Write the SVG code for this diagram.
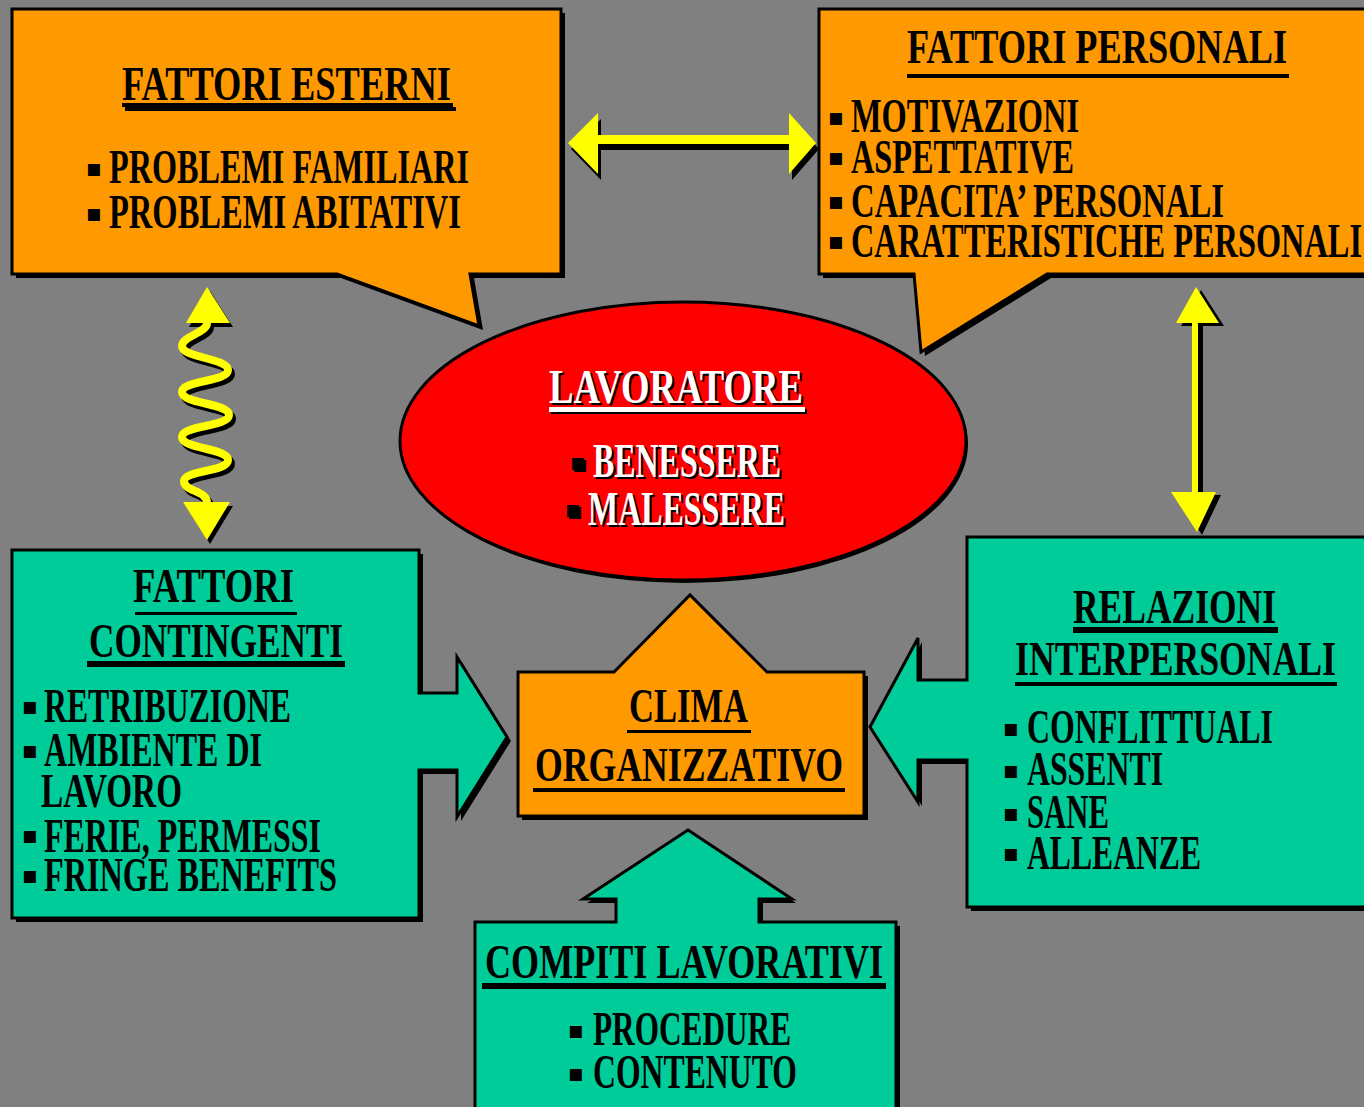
<svg xmlns="http://www.w3.org/2000/svg" width="1364" height="1107" viewBox="0 0 1364 1107">
<defs>
<style>
.org{fill:#FF9900;stroke:#000;stroke-width:3;stroke-linejoin:miter}
.teal{fill:#00CC99;stroke:#000;stroke-width:3;stroke-linejoin:miter}
.red{fill:#FF0000;stroke:#000;stroke-width:3}
.sh{fill:#000}
.t{font-family:"Liberation Serif","Times New Roman",serif;font-weight:bold;font-size:49px;fill:#000}
.w{fill:#fff}
.bl{font-family:"DejaVu Sans",sans-serif;font-size:24px;fill:#000;text-anchor:middle}
.ul{fill:#000}
.yel{fill:#FFFF00}
.ys{fill:none;stroke:#FFFF00;stroke-width:8}
.ks{fill:none;stroke:#000;stroke-width:8}
</style>
</defs>
<rect width="1364" height="1107" fill="#808080"/>

<g id="connectors">
  <!-- horizontal double arrow -->
  <g transform="translate(3,6)" class="sh">
    <rect x="598" y="135" width="191" height="9"/>
    <polygon points="568,143 598,113 598,174"/>
    <polygon points="816,143 789,113 789,174"/>
  </g>
  <g class="yel">
    <rect x="598" y="135" width="191" height="9"/>
    <polygon points="568,143 598,113 598,174"/>
    <polygon points="816,143 789,113 789,174"/>
  </g>
  <!-- right vertical double arrow -->
  <g transform="translate(5,3)" class="sh">
    <rect x="1192" y="323" width="6" height="169"/>
    <polygon points="1196,287 1219,323 1176,323"/>
    <polygon points="1171,492 1216,492 1197,532"/>
  </g>
  <g class="yel">
    <rect x="1192" y="323" width="6" height="169"/>
    <polygon points="1196,287 1219,323 1176,323"/>
    <polygon points="1171,492 1216,492 1197,532"/>
  </g>
  <!-- wavy double arrow -->
  <g transform="translate(3,4)">
    <path class="ks" d="M207,323 C207,333 182,336 182,346 C182,358 228,358 228,370 C228,382 182,380 182,392 C182,404 229,403 229,415 C229,427 182,425 182,437 C182,449 228,448 228,460 C228,472 184,470 184,481 C184,492 207,490 207,503"/>
    <polygon class="sh" points="207,287 230,323 186,323"/>
    <polygon class="sh" points="183,502 230,502 207,540"/>
  </g>
  <path class="ys" d="M207,323 C207,333 182,336 182,346 C182,358 228,358 228,370 C228,382 182,380 182,392 C182,404 229,403 229,415 C229,427 182,425 182,437 C182,449 228,448 228,460 C228,472 184,470 184,481 C184,492 207,490 207,503"/>
  <polygon class="yel" points="207,287 230,323 186,323"/>
  <polygon class="yel" points="183,502 230,502 207,540"/>
</g>

<g id="fattori-esterni">
  <path class="sh" transform="translate(4,4)" d="M12,9 H561 V274 H470 L479,326 L337,274 H12 Z"/>
  <path class="org" d="M12,9 H561 V274 H470 L479,326 L337,274 H12 Z"/>
  <text class="t" x="122" y="100" textLength="329" lengthAdjust="spacingAndGlyphs">FATTORI ESTERNI</text>
  <rect class="ul" x="122" y="103" width="331" height="4"/>
  <rect class="ul" x="125" y="107" width="331" height="4"/>
  <text class="bl" x="94" y="176">▪</text>
  <text class="t" x="109" y="183" textLength="360" lengthAdjust="spacingAndGlyphs">PROBLEMI FAMILIARI</text>
  <text class="bl" x="94" y="221">▪</text>
  <text class="t" x="109" y="228" textLength="352" lengthAdjust="spacingAndGlyphs">PROBLEMI ABITATIVI</text>
</g>

<g id="fattori-personali">
  <path class="sh" transform="translate(4,4)" d="M819,9 H1372 V274 H1047 L921,352 L914,274 H819 Z"/>
  <path class="org" d="M819,9 H1372 V274 H1047 L921,352 L914,274 H819 Z"/>
  <text class="t" x="907" y="63" textLength="380" lengthAdjust="spacingAndGlyphs">FATTORI PERSONALI</text>
  <rect class="ul" x="907" y="74" width="382" height="4"/>
  <text class="bl" x="836" y="125">▪</text>
  <text class="t" x="851" y="132" textLength="228" lengthAdjust="spacingAndGlyphs">MOTIVAZIONI</text>
  <text class="bl" x="836" y="165">▪</text>
  <text class="t" x="851" y="173" textLength="223" lengthAdjust="spacingAndGlyphs">ASPETTATIVE</text>
  <text class="bl" x="836" y="209">▪</text>
  <text class="t" x="851" y="217" textLength="373" lengthAdjust="spacingAndGlyphs">CAPACITA’ PERSONALI</text>
  <text class="bl" x="836" y="249">▪</text>
  <text class="t" x="851" y="257" textLength="511" lengthAdjust="spacingAndGlyphs">CARATTERISTICHE PERSONALI</text>
</g>

<g id="lavoratore">
  <ellipse class="sh" cx="685" cy="444" rx="283" ry="139"/>
  <ellipse class="red" cx="683" cy="441" rx="283" ry="139"/>
  <text class="t" x="551" y="405" textLength="254" lengthAdjust="spacingAndGlyphs">LAVORATORE</text>
  <text class="t w" x="549" y="403" textLength="254" lengthAdjust="spacingAndGlyphs">LAVORATORE</text>
  <rect class="ul" x="551" y="409" width="256" height="5"/>
  <rect class="w" x="549" y="407" width="256" height="5"/>
  <text class="bl" x="580" y="472">▪</text>
  <text class="bl w" x="578" y="470">▪</text>
  <text class="t" x="595" y="479" textLength="188" lengthAdjust="spacingAndGlyphs">BENESSERE</text>
  <text class="t w" x="593" y="477" textLength="188" lengthAdjust="spacingAndGlyphs">BENESSERE</text>
  <text class="bl" x="575" y="519">▪</text>
  <text class="bl w" x="573" y="517">▪</text>
  <text class="t" x="590" y="527" textLength="197" lengthAdjust="spacingAndGlyphs">MALESSERE</text>
  <text class="t w" x="588" y="525" textLength="197" lengthAdjust="spacingAndGlyphs">MALESSERE</text>
</g>

<g id="fattori-contingenti">
  <path class="sh" transform="translate(4,4)" d="M12,550 H419 V693 H457 V657 L507,737 L457,817 V770 H419 V918 H12 Z"/>
  <path class="teal" d="M12,550 H419 V693 H457 V657 L507,737 L457,817 V770 H419 V918 H12 Z"/>
  <text class="t" x="133" y="602" textLength="161" lengthAdjust="spacingAndGlyphs">FATTORI</text>
  <rect class="ul" x="135" y="612" width="162" height="3"/>
  <text class="t" x="89" y="657" textLength="254" lengthAdjust="spacingAndGlyphs">CONTINGENTI</text>
  <rect class="ul" x="87" y="661" width="258" height="6"/>
  <text class="bl" x="30" y="714">▪</text>
  <text class="t" x="44" y="722" textLength="247" lengthAdjust="spacingAndGlyphs">RETRIBUZIONE</text>
  <text class="bl" x="30" y="758">▪</text>
  <text class="t" x="44" y="766" textLength="218" lengthAdjust="spacingAndGlyphs">AMBIENTE DI</text>
  <text class="t" x="41" y="807" textLength="141" lengthAdjust="spacingAndGlyphs">LAVORO</text>
  <text class="bl" x="30" y="843">▪</text>
  <text class="t" x="44" y="852" textLength="277" lengthAdjust="spacingAndGlyphs">FERIE, PERMESSI</text>
  <text class="bl" x="30" y="883">▪</text>
  <text class="t" x="44" y="891" textLength="293" lengthAdjust="spacingAndGlyphs">FRINGE BENEFITS</text>
</g>

<g id="relazioni-interpersonali">
  <path class="sh" transform="translate(4,4)" d="M967,537 H1372 V907 H967 V760 H918 V802 L870,727 L918,638 V680 H967 Z"/>
  <path class="teal" d="M967,537 H1372 V907 H967 V760 H918 V802 L870,727 L918,638 V680 H967 Z"/>
  <text class="t" x="1073" y="623" textLength="203" lengthAdjust="spacingAndGlyphs">RELAZIONI</text>
  <rect class="ul" x="1073" y="627" width="205" height="6"/>
  <text class="t" x="1015" y="675" textLength="321" lengthAdjust="spacingAndGlyphs">INTERPERSONALI</text>
  <rect class="ul" x="1015" y="682" width="322" height="4"/>
  <text class="bl" x="1011" y="736">▪</text>
  <text class="t" x="1027" y="743" textLength="246" lengthAdjust="spacingAndGlyphs">CONFLITTUALI</text>
  <text class="bl" x="1011" y="778">▪</text>
  <text class="t" x="1027" y="785" textLength="136" lengthAdjust="spacingAndGlyphs">ASSENTI</text>
  <text class="bl" x="1011" y="821">▪</text>
  <text class="t" x="1027" y="828" textLength="82" lengthAdjust="spacingAndGlyphs">SANE</text>
  <text class="bl" x="1011" y="861">▪</text>
  <text class="t" x="1027" y="869" textLength="174" lengthAdjust="spacingAndGlyphs">ALLEANZE</text>
</g>

<g id="clima-organizzativo">
  <path class="sh" transform="translate(4,4)" d="M518,672 H614 L690,595 L767,672 H864 V816 H518 Z"/>
  <path class="org" d="M518,672 H614 L690,595 L767,672 H864 V816 H518 Z"/>
  <text class="t" x="629" y="722" textLength="119" lengthAdjust="spacingAndGlyphs">CLIMA</text>
  <rect class="ul" x="627" y="730" width="124" height="3"/>
  <text class="t" x="535" y="781" textLength="308" lengthAdjust="spacingAndGlyphs">ORGANIZZATIVO</text>
  <rect class="ul" x="533" y="788" width="312" height="4"/>
</g>

<g id="compiti-lavorativi">
  <path class="sh" transform="translate(4,4)" d="M475,922 H616 V899 H583 L688,830 L792,899 H759 V922 H896 V1115 H475 Z"/>
  <path class="teal" d="M475,922 H616 V899 H583 L688,830 L792,899 H759 V922 H896 V1115 H475 Z"/>
  <text class="t" x="485" y="978" textLength="398" lengthAdjust="spacingAndGlyphs">COMPITI LAVORATIVI</text>
  <rect class="ul" x="482" y="983" width="404" height="6"/>
  <text class="bl" x="576" y="1038">▪</text>
  <text class="t" x="593" y="1045" textLength="198" lengthAdjust="spacingAndGlyphs">PROCEDURE</text>
  <text class="bl" x="576" y="1081">▪</text>
  <text class="t" x="593" y="1088" textLength="204" lengthAdjust="spacingAndGlyphs">CONTENUTO</text>
</g>
</svg>
